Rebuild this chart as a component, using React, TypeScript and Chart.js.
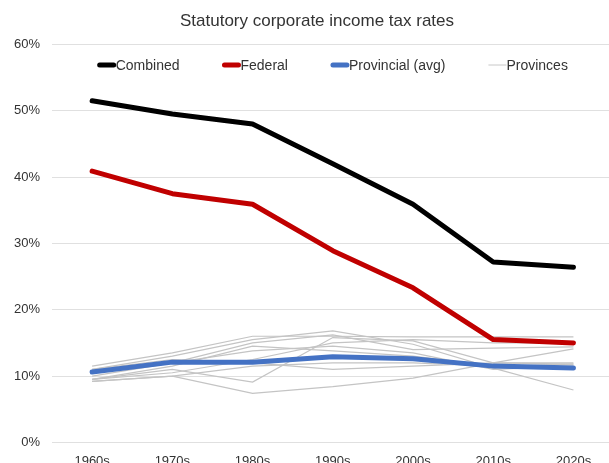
import React, { useEffect, useRef } from "react";
import { Chart, registerables } from "chart.js";

Chart.register(...registerables);

const categories = ["1960s", "1970s", "1980s", "1990s", "2000s", "2010s", "2020s"];
const combined = [51.5, 49.5, 48.0, 42.0, 35.9, 27.2, 26.4];
const federal = [40.9, 37.5, 35.9, 28.9, 23.3, 15.5, 15.0];
const provincialAvg = [10.6, 12.1, 12.1, 12.9, 12.6, 11.5, 11.2];
const provinceA = [9.2, 10.0, 7.4, 8.4, 9.7, 12.0, 14.1];
const provinceB = [9.5, 11.0, 9.1, 15.8, 15.3, 12.0, 11.8];
const provinceC = [11.5, 13.5, 16.0, 16.0, 15.9, 15.9, 15.9];
const provinceD = [11.0, 13.0, 15.5, 16.8, 14.8, 11.2, 7.9];
const provinceE = [10.0, 12.0, 15.0, 16.2, 14.0, 14.2, 14.4];
const provinceF = [9.5, 11.5, 14.5, 13.8, 13.0, 11.5, 11.8];
const provinceG = [10.5, 12.0, 13.8, 14.5, 13.5, 11.0, 11.5];
const provinceH = [9.2, 10.0, 11.5, 12.0, 12.0, 11.5, 11.5];
const provinceI = [11.0, 12.5, 12.0, 11.0, 11.5, 12.0, 12.0];
const provinceJ = [9.5, 10.5, 12.5, 15.0, 15.5, 15.0, 15.0];
const provinces = [provinceA, provinceB, provinceC, provinceD, provinceE, provinceF, provinceG, provinceH, provinceI, provinceJ];
const yTicks = [0, 10, 20, 30, 40, 50, 60];

const FONT = "'Liberation Sans', Arial, sans-serif";
const TEXT = "#333333";

const legendItems = [
  { label: "Combined", color: "#000000", width: 5 },
  { label: "Federal", color: "#c00000", width: 5 },
  { label: "Provincial (avg)", color: "#4472c4", width: 5 },
  { label: "Provinces", color: "#c8c8c8", width: 1 },
];

const toPoints = (arr: number[]) => arr.map((v, i) => ({ x: i, y: v }));

const customLegend = {
  id: "customLegend",
  afterDraw(chart: any) {
    const ctx = chart.ctx;
    const xs = chart.scales.x;
    const center = xs.getPixelForValue((categories.length - 1) / 2);
    const y = 65;
    const lineLen = 18;
    const gap = 43;
    ctx.save();
    ctx.font = `14px ${FONT}`;
    const widths = legendItems.map((it) => lineLen + ctx.measureText(it.label).width);
    const total = widths.reduce((a, b) => a + b, 0) + gap * (legendItems.length - 1);
    let x = center - total / 2;
    legendItems.forEach((it, i) => {
      ctx.strokeStyle = it.color;
      ctx.lineWidth = it.width;
      ctx.lineCap = it.width > 1 ? "round" : "butt";
      ctx.beginPath();
      ctx.moveTo(x + (it.width > 1 ? 2 : 0), y);
      ctx.lineTo(x + lineLen - (it.width > 1 ? 2 : 0), y);
      ctx.stroke();
      ctx.fillStyle = TEXT;
      ctx.textBaseline = "middle";
      ctx.textAlign = "left";
      ctx.fillText(it.label, x + lineLen, y + 1);
      x += widths[i] + gap;
    });
    ctx.restore();
  },
};

export default function App() {
  const ref = useRef<HTMLCanvasElement>(null);
  useEffect(() => {
    if (!ref.current) return;
    const mainLine = (label: string, data: number[], color: string) => ({
      label,
      data: toPoints(data),
      borderColor: color,
      backgroundColor: color,
      borderWidth: 5,
      pointRadius: 0,
      borderCapStyle: "round",
      borderJoinStyle: "round",
      tension: 0,
    });
    const chart = new Chart(ref.current, {
      type: "line",
      data: {
        datasets: [
          mainLine("Combined", combined, "#000000"),
          mainLine("Federal", federal, "#c00000"),
          mainLine("Provincial (avg)", provincialAvg, "#4472c4"),
          ...provinces.map((p, i) => ({
            label: i === 0 ? "Provinces" : `Province ${i + 1}`,
            data: toPoints(p),
            borderColor: "#c4c4c4",
            backgroundColor: "#c4c4c4",
            borderWidth: 1.2,
            pointRadius: 0,
            tension: 0,
          })),
        ],
      } as any,
      options: {
        responsive: false,
        animation: false,
        devicePixelRatio: 1,
        layout: { padding: { left: 2, right: 0, top: 0, bottom: 2 } },
        plugins: {
          legend: { display: false },
          tooltip: { enabled: false },
          title: {
            display: true,
            text: "Statutory corporate income tax rates",
            color: TEXT,
            font: { family: FONT, size: 17, weight: "normal" },
            padding: { top: 11, bottom: 13 },
          },
        },
        scales: {
          x: {
            type: "linear",
            min: -0.5,
            max: 6.73,
            grid: { display: false, drawTicks: false },
            border: { display: false },
            afterBuildTicks: (axis: any) => {
              axis.ticks = categories.map((_, i) => ({ value: i }));
            },
            ticks: {
              padding: 11,
              color: TEXT,
              font: { family: FONT, size: 13 },
              maxRotation: 0,
              callback: (v: any) => categories[v] ?? "",
            },
          },
          y: {
            min: 0,
            max: 60,
            afterBuildTicks: (axis: any) => {
              axis.ticks = yTicks.map((v) => ({ value: v }));
            },
            grid: { color: "#e0e0e0", lineWidth: 1, drawTicks: false },
            border: { display: false },
            ticks: {
              padding: 12,
              color: TEXT,
              font: { family: FONT, size: 13 },
              callback: (v: any) => `${v}%`,
            },
          },
        },
      } as any,
      plugins: [customLegend],
    });
    return () => chart.destroy();
  }, []);
  return (
    <div style={{ position: "fixed", left: 0, top: 0, width: 609, height: 463, overflow: "hidden", background: "#fff" }}>
      <canvas ref={ref} width={632} height={482} style={{ width: 632, height: 482, display: "block" }} />
    </div>
  );
}
